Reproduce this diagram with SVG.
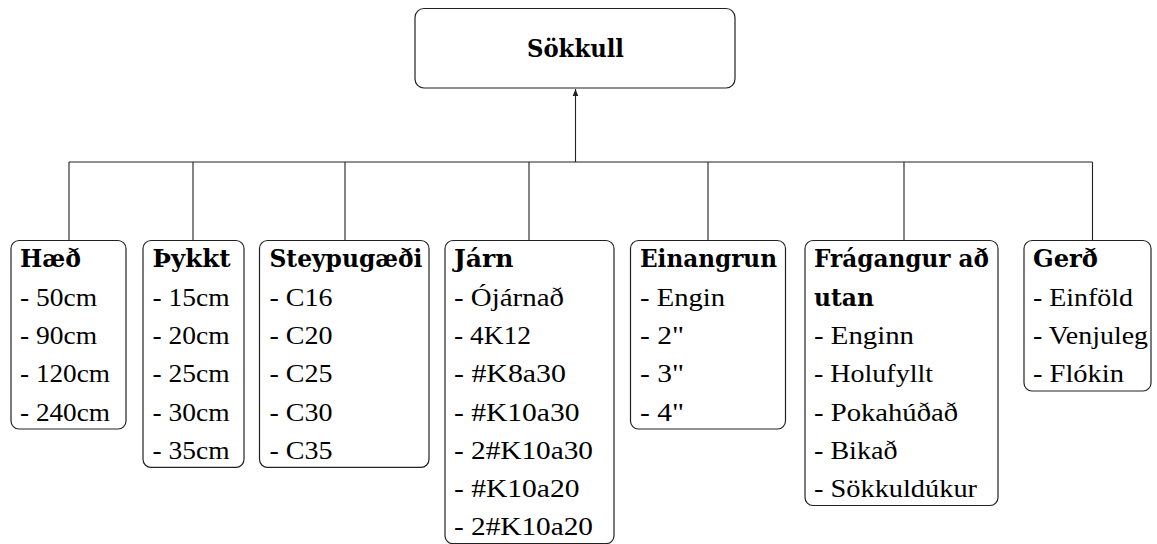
<svg xmlns="http://www.w3.org/2000/svg" width="1157" height="544" viewBox="0 0 1157 544">
<style>
.box{fill:#fff;stroke:#222;stroke-width:1.2}
.t{font-family:"Liberation Serif","DejaVu Serif",serif;font-size:26px;fill:#000}
.b{font-family:"DejaVu Serif","Liberation Serif",serif;font-weight:bold;font-size:23.5px}
.c{fill:none;stroke:#222;stroke-width:1.1}
</style>
<defs>
<marker id="ah" markerWidth="8" markerHeight="8" refX="7" refY="4" orient="auto" markerUnits="userSpaceOnUse">
<path d="M0,1.2 L7,4 L0,6.8 Z" fill="#222"/>
</marker>
</defs>
<g id="connectors">
<path class="c" d="M69,162 H1092.5"/>
<path class="c" d="M69,162 V240.5 M193,162 V240.5 M345,162 V240.5 M529,162 V240.5 M708,162 V240.5 M904,162 V240.5 M1092.5,162 V240.5"/>
<path class="c" d="M575.5,162 V89" marker-end="url(#ah)"/>
</g>
<g id="sokkull">
<rect class="box" x="415" y="8.5" width="320" height="79.5" rx="9"/>
<text class="t b" x="575.5" y="57" text-anchor="middle" textLength="97" lengthAdjust="spacingAndGlyphs">Sökkull</text>
</g>
<g id="haed">
<rect class="box" x="11" y="240.5" width="115" height="188.5" rx="8"/>
<text class="t b" x="20" y="266.5" textLength="61" lengthAdjust="spacingAndGlyphs">Hæð</text>
<text class="t" x="20" y="306" textLength="77" lengthAdjust="spacingAndGlyphs">- 50cm</text>
<text class="t" x="20" y="344.2" textLength="77" lengthAdjust="spacingAndGlyphs">- 90cm</text>
<text class="t" x="20" y="382.4" textLength="90" lengthAdjust="spacingAndGlyphs">- 120cm</text>
<text class="t" x="20" y="420.6" textLength="90" lengthAdjust="spacingAndGlyphs">- 240cm</text>
</g>
<g id="thykkt">
<rect class="box" x="143" y="240.5" width="101" height="226.8" rx="8"/>
<text class="t b" x="152.5" y="266.5" textLength="78" lengthAdjust="spacingAndGlyphs">Þykkt</text>
<text class="t" x="152.5" y="306" textLength="77" lengthAdjust="spacingAndGlyphs">- 15cm</text>
<text class="t" x="152.5" y="344.2" textLength="77" lengthAdjust="spacingAndGlyphs">- 20cm</text>
<text class="t" x="152.5" y="382.4" textLength="77" lengthAdjust="spacingAndGlyphs">- 25cm</text>
<text class="t" x="152.5" y="420.6" textLength="77" lengthAdjust="spacingAndGlyphs">- 30cm</text>
<text class="t" x="152.5" y="458.8" textLength="77" lengthAdjust="spacingAndGlyphs">- 35cm</text>
</g>
<g id="steypugaedi">
<rect class="box" x="259.5" y="240.5" width="169.5" height="226.8" rx="8"/>
<text class="t b" x="269.5" y="266.5" textLength="153" lengthAdjust="spacingAndGlyphs">Steypugæði</text>
<text class="t" x="269.5" y="306" textLength="63" lengthAdjust="spacingAndGlyphs">- C16</text>
<text class="t" x="269.5" y="344.2" textLength="63" lengthAdjust="spacingAndGlyphs">- C20</text>
<text class="t" x="269.5" y="382.4" textLength="63" lengthAdjust="spacingAndGlyphs">- C25</text>
<text class="t" x="269.5" y="420.6" textLength="63" lengthAdjust="spacingAndGlyphs">- C30</text>
<text class="t" x="269.5" y="458.8" textLength="63" lengthAdjust="spacingAndGlyphs">- C35</text>
</g>
<g id="jarn">
<rect class="box" x="445" y="240.5" width="169" height="303.2" rx="8"/>
<text class="t b" x="454" y="266.5" textLength="59.5" lengthAdjust="spacingAndGlyphs">Járn</text>
<text class="t" x="454" y="306" textLength="110" lengthAdjust="spacingAndGlyphs">- Ójárnað</text>
<text class="t" x="454" y="344.2" textLength="77" lengthAdjust="spacingAndGlyphs">- 4K12</text>
<text class="t" x="454" y="382.4" textLength="112" lengthAdjust="spacingAndGlyphs">- #K8a30</text>
<text class="t" x="454" y="420.6" textLength="125.5" lengthAdjust="spacingAndGlyphs">- #K10a30</text>
<text class="t" x="454" y="458.8" textLength="139" lengthAdjust="spacingAndGlyphs">- 2#K10a30</text>
<text class="t" x="454" y="497" textLength="125.5" lengthAdjust="spacingAndGlyphs">- #K10a20</text>
<text class="t" x="454" y="535.2" textLength="139" lengthAdjust="spacingAndGlyphs">- 2#K10a20</text>
</g>
<g id="einangrun">
<rect class="box" x="630.5" y="240.5" width="155" height="188.5" rx="8"/>
<text class="t b" x="640" y="266.5" textLength="137" lengthAdjust="spacingAndGlyphs">Einangrun</text>
<text class="t" x="640" y="306" textLength="85" lengthAdjust="spacingAndGlyphs">- Engin</text>
<text class="t" x="640" y="344.2" textLength="44" lengthAdjust="spacingAndGlyphs">- 2"</text>
<text class="t" x="640" y="382.4" textLength="44" lengthAdjust="spacingAndGlyphs">- 3"</text>
<text class="t" x="640" y="420.6" textLength="44" lengthAdjust="spacingAndGlyphs">- 4"</text>
</g>
<g id="fragangur">
<rect class="box" x="805" y="240.5" width="193" height="265" rx="8"/>
<text class="t b" x="814" y="266.5" textLength="175" lengthAdjust="spacingAndGlyphs">Frágangur að</text>
<text class="t b" x="814" y="305.5" textLength="60" lengthAdjust="spacingAndGlyphs">utan</text>
<text class="t" x="814" y="344.2" textLength="100" lengthAdjust="spacingAndGlyphs">- Enginn</text>
<text class="t" x="814" y="382.4" textLength="119" lengthAdjust="spacingAndGlyphs">- Holufyllt</text>
<text class="t" x="814" y="420.6" textLength="144" lengthAdjust="spacingAndGlyphs">- Pokahúðað</text>
<text class="t" x="814" y="458.8" textLength="83.5" lengthAdjust="spacingAndGlyphs">- Bikað</text>
<text class="t" x="814" y="497" textLength="163" lengthAdjust="spacingAndGlyphs">- Sökkuldúkur</text>
</g>
<g id="gerd">
<rect class="box" x="1024" y="240.5" width="127" height="150.5" rx="8"/>
<text class="t b" x="1033" y="266.5" textLength="65" lengthAdjust="spacingAndGlyphs">Gerð</text>
<text class="t" x="1033" y="306" textLength="100" lengthAdjust="spacingAndGlyphs">- Einföld</text>
<text class="t" x="1033" y="344.2" textLength="115" lengthAdjust="spacingAndGlyphs">- Venjuleg</text>
<text class="t" x="1033" y="382.4" textLength="91" lengthAdjust="spacingAndGlyphs">- Flókin</text>
</g>
</svg>
